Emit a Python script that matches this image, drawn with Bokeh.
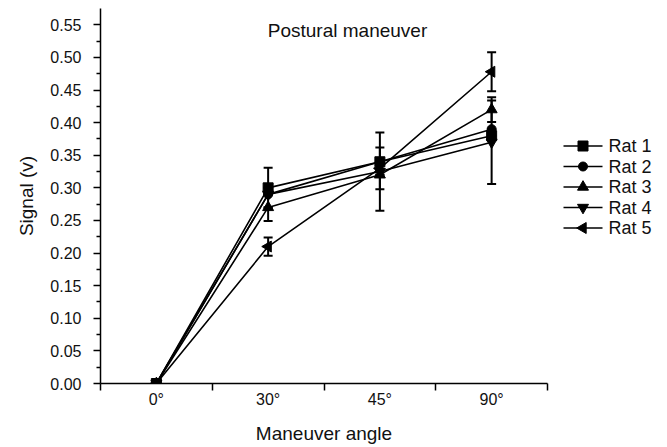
from bokeh.plotting import figure
from bokeh.models import (ColumnDataSource, Whisker, Label, FixedTicker, Range1d)
from bokeh.layouts import row
from bokeh.core.properties import value
from bokeh.embed import file_html
from bokeh.resources import INLINE
import math

angles = ["0°", "30°", "45°", "90°"]
xpos = [0, 1, 2, 3]

rat1 = [0.0, 0.30, 0.34, 0.38]
rat2 = [0.0, 0.29, 0.34, 0.39]
rat3 = [0.0, 0.27, 0.32, 0.42]
rat4 = [0.0, 0.29, 0.325, 0.37]
rat5 = [0.0, 0.21, 0.33, 0.478]

err1 = [0.0, 0.0, 0.0, 0.0]
err2 = [0.0, 0.041, 0.0, 0.0]
err3 = [0.0, 0.0, 0.0, 0.019]
err4 = [0.0, 0.0, 0.06, 0.064]
err5 = [0.0, 0.014, 0.032, 0.03]

names = ["Rat 1", "Rat 2", "Rat 3", "Rat 4", "Rat 5"]
series = [rat1, rat2, rat3, rat4, rat5]
errs = [err1, err2, err3, err4, err5]
markers = ["square", "circle", "triangle", "inverted_triangle", "triangle"]
angles_m = [0, 0, 0, 0, math.pi / 2]
sizes = [10, 9, 11, 11, 11]

FONT = "Liberation Sans"
TXT = "#111111"

p = figure(frame_width=447, frame_height=375, output_backend="svg",
           toolbar_location=None, min_border_left=100, min_border_right=10,
           min_border_top=8, min_border_bottom=64,
           x_range=Range1d(-0.5, 3.5), y_range=Range1d(0, 0.575))
p.outline_line_color = None
p.grid.visible = False
p.background_fill_color = "white"
p.border_fill_color = "white"

for name, ys, es, mk, ang, sz in zip(names, series, errs, markers, angles_m, sizes):
    src = ColumnDataSource(dict(x=xpos, y=ys,
                                lo=[y - e for y, e in zip(ys, es)],
                                hi=[y + e for y, e in zip(ys, es)]))
    w = Whisker(source=src, base="x", lower="lo", upper="hi",
                line_color="black", line_width=2)
    w.upper_head.size = 9
    w.lower_head.size = 9
    w.upper_head.line_width = 2
    w.lower_head.line_width = 2
    p.add_layout(w)
    p.line("x", "y", source=src, line_color="black", line_width=1.6)
    p.scatter("x", "y", source=src, marker=mk, angle=ang, size=sz,
              fill_color="black", line_color="black")

title = Label(x=247, y=353, x_units="screen", y_units="screen",
              text="Postural maneuver", text_align="center",
              text_baseline="middle", text_font=FONT, text_font_size="19px",
              text_color=TXT)
p.add_layout(title)

# x axis
p.xaxis.ticker = FixedTicker(ticks=xpos, minor_ticks=[-0.5, 0.5, 1.5, 2.5, 3.5])
p.xaxis.major_label_overrides = {i: a for i, a in zip(xpos, angles)}
p.xaxis.major_tick_out = 0
p.xaxis.major_tick_in = 0
p.xaxis.minor_tick_out = 7
p.xaxis.minor_tick_in = 0
p.xaxis.major_label_standoff = 0
p.xaxis.axis_label = "Maneuver angle"
p.xaxis.axis_label_standoff = 12

# y axis
yt = [round(i * 0.05, 2) for i in range(12)]
p.yaxis.ticker = FixedTicker(ticks=yt, minor_ticks=[round(0.025 + i * 0.05, 3) for i in range(11)])
p.yaxis.major_label_overrides = {v: f"{v:.2f}" for v in yt}
p.yaxis.major_tick_out = 7
p.yaxis.major_tick_in = 0
p.yaxis.minor_tick_out = 4
p.yaxis.minor_tick_in = 0
p.yaxis.major_label_standoff = 12
p.yaxis.axis_label = "Signal (v)"
p.yaxis.axis_label_standoff = 10

for ax in (p.xaxis, p.yaxis):
    ax.axis_line_width = 1.5
    ax.major_tick_line_width = 1.5
    ax.minor_tick_line_width = 1.5
    ax.major_label_text_font = FONT
    ax.major_label_text_font_size = "16px"
    ax.major_label_text_color = TXT
    ax.axis_label_text_font = FONT
    ax.axis_label_text_font_size = "19px"
    ax.axis_label_text_font_style = "normal"
    ax.axis_label_text_color = TXT

# legend panel (pixel-space ranges, y downward)
LW, LH = 110, 447
lg = figure(frame_width=LW, frame_height=LH, output_backend="svg",
            toolbar_location=None,
            x_range=Range1d(0, LW), y_range=Range1d(LH, 0),
            min_border=0, min_border_left=0, min_border_right=0,
            min_border_top=0, min_border_bottom=0)
lg.axis.visible = False
lg.grid.visible = False
lg.outline_line_color = None
lg.background_fill_color = "white"
lg.border_fill_color = "white"

row_y0, row_dy = 137.5, 20.5
gx0, gx1, tx = 6, 45, 51
for i, (name, mk, ang, sz) in enumerate(zip(names, markers, angles_m, sizes)):
    yy = row_y0 + i * row_dy
    lg.line([gx0, gx1], [yy, yy], line_color="black", line_width=1.6)
    lg.scatter([(gx0 + gx1) / 2], [yy], marker=mk, angle=ang,
               size=sz, fill_color="black", line_color="black")
    lg.text([tx], [yy], text=[name], text_font=value(FONT),
            text_font_size=value("18px"), text_baseline="middle",
            text_align="left", text_color=TXT)

layout = row(p, lg, spacing=0)
open("out.html", "w").write(file_html(layout, INLINE))
